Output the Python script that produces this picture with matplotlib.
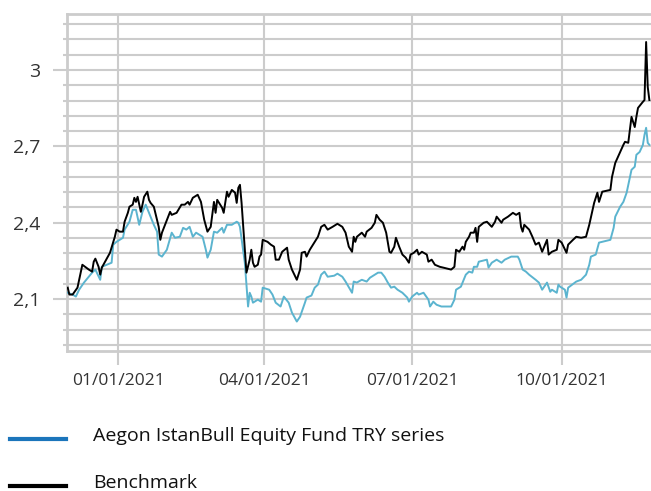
import matplotlib
matplotlib.use("Agg")
import matplotlib.pyplot as plt
import matplotlib.dates as mdates
from matplotlib.ticker import MultipleLocator, FuncFormatter
from matplotlib.lines import Line2D
import pandas as pd

plt.rcParams['font.family'] = ['Open Sans', 'DejaVu Sans']

# Fund series
fund_dates = [
    "2020-12-01", "2020-12-04", "2020-12-06", "2020-12-08", "2020-12-11", "2020-12-14", "2020-12-16",
    "2020-12-18", "2020-12-21", "2020-12-22", "2020-12-28", "2020-12-29", "2020-12-31",
    "2021-01-04", "2021-01-05", "2021-01-08", "2021-01-10", "2021-01-12", "2021-01-14", "2021-01-16",
    "2021-01-18", "2021-01-20", "2021-01-23", "2021-01-25", "2021-01-26", "2021-01-28", "2021-01-31",
    "2021-02-03", "2021-02-05", "2021-02-08", "2021-02-10", "2021-02-12", "2021-02-14", "2021-02-16",
    "2021-02-18", "2021-02-22", "2021-02-24", "2021-02-25", "2021-02-27",
    "2021-03-01", "2021-03-03", "2021-03-06", "2021-03-07", "2021-03-09", "2021-03-12", "2021-03-15",
    "2021-03-16", "2021-03-17", "2021-03-20", "2021-03-22", "2021-03-23", "2021-03-24", "2021-03-25",
    "2021-03-28", "2021-03-30", "2021-03-31",
    "2021-04-04", "2021-04-06", "2021-04-08", "2021-04-11", "2021-04-13", "2021-04-16", "2021-04-18",
    "2021-04-21", "2021-04-23", "2021-04-26", "2021-04-27", "2021-04-30",
    "2021-05-02", "2021-05-04", "2021-05-06", "2021-05-08", "2021-05-10", "2021-05-14", "2021-05-16",
    "2021-05-19", "2021-05-21", "2021-05-25", "2021-05-26", "2021-05-28", "2021-05-29", "2021-05-31",
    "2021-06-03", "2021-06-05", "2021-06-08", "2021-06-10", "2021-06-12", "2021-06-14", "2021-06-16",
    "2021-06-18", "2021-06-20", "2021-06-22", "2021-06-25", "2021-06-28", "2021-06-29",
    "2021-07-01", "2021-07-04", "2021-07-05", "2021-07-08", "2021-07-11", "2021-07-12", "2021-07-14",
    "2021-07-16", "2021-07-19", "2021-07-25", "2021-07-27", "2021-07-28", "2021-07-31",
    "2021-08-03", "2021-08-05", "2021-08-07", "2021-08-08", "2021-08-10", "2021-08-11", "2021-08-16",
    "2021-08-17", "2021-08-19", "2021-08-22", "2021-08-25", "2021-08-27", "2021-08-31",
    "2021-09-04", "2021-09-05", "2021-09-07", "2021-09-09", "2021-09-11", "2021-09-15", "2021-09-17",
    "2021-09-19", "2021-09-22", "2021-09-24", "2021-09-25", "2021-09-28", "2021-09-29", "2021-09-30",
    "2021-10-03", "2021-10-04", "2021-10-05", "2021-10-10", "2021-10-13", "2021-10-16", "2021-10-18",
    "2021-10-19", "2021-10-22", "2021-10-24", "2021-10-31",
    "2021-11-02", "2021-11-03", "2021-11-06", "2021-11-08", "2021-11-10", "2021-11-13", "2021-11-15",
    "2021-11-16", "2021-11-18", "2021-11-20", "2021-11-21", "2021-11-22", "2021-11-23", "2021-11-24",
]
fund_values = [
    2.125, 2.118, 2.110, 2.137, 2.165, 2.188, 2.204, 2.216, 2.176, 2.227, 2.243, 2.314, 2.325,
    2.341, 2.373, 2.404, 2.451, 2.451, 2.392, 2.443, 2.471, 2.439, 2.392, 2.365, 2.275, 2.267, 2.294,
    2.361, 2.341, 2.345, 2.380, 2.373, 2.384, 2.345, 2.361, 2.345, 2.294, 2.263, 2.294,
    2.365, 2.361, 2.380, 2.361, 2.392, 2.392, 2.404, 2.400, 2.384, 2.243, 2.071, 2.125, 2.110, 2.086,
    2.098, 2.090, 2.145,
    2.137, 2.118, 2.086, 2.071, 2.110, 2.086, 2.047, 2.012, 2.031, 2.086, 2.106, 2.114,
    2.145, 2.157, 2.196, 2.208, 2.188, 2.192, 2.200, 2.188, 2.169, 2.125, 2.169, 2.165, 2.169, 2.176,
    2.169, 2.184, 2.196, 2.204, 2.204, 2.188, 2.165, 2.145, 2.149, 2.137, 2.125, 2.106, 2.090,
    2.110, 2.125, 2.118, 2.125, 2.098, 2.071, 2.090, 2.078, 2.071, 2.071, 2.098, 2.137, 2.149,
    2.196, 2.208, 2.204, 2.227, 2.227, 2.247, 2.255, 2.224, 2.243, 2.255, 2.243, 2.255, 2.267,
    2.267, 2.255, 2.216, 2.208, 2.196, 2.176, 2.165, 2.137, 2.165, 2.129, 2.137, 2.125, 2.157, 2.149,
    2.137, 2.106, 2.145, 2.169, 2.176, 2.196, 2.235, 2.267, 2.275, 2.322, 2.333,
    2.380, 2.424, 2.463, 2.482, 2.518, 2.608, 2.620, 2.667, 2.678, 2.706, 2.745, 2.773, 2.714, 2.706,
]

# Benchmark series
bench_dates = [
    "2020-12-01", "2020-12-02", "2020-12-04", "2020-12-07", "2020-12-10", "2020-12-14", "2020-12-16",
    "2020-12-17", "2020-12-18", "2020-12-20", "2020-12-21", "2020-12-22", "2020-12-24", "2020-12-27",
    "2020-12-29", "2020-12-30", "2020-12-31",
    "2021-01-02", "2021-01-04", "2021-01-05", "2021-01-07", "2021-01-08", "2021-01-10", "2021-01-11",
    "2021-01-12", "2021-01-13", "2021-01-15", "2021-01-16", "2021-01-17", "2021-01-19", "2021-01-20",
    "2021-01-21", "2021-01-23", "2021-01-26", "2021-01-27", "2021-01-28",
    "2021-02-02", "2021-02-03", "2021-02-06", "2021-02-09", "2021-02-11", "2021-02-13", "2021-02-14",
    "2021-02-16", "2021-02-17", "2021-02-19", "2021-02-21", "2021-02-23", "2021-02-25", "2021-02-27",
    "2021-03-01", "2021-03-02", "2021-03-03", "2021-03-06", "2021-03-07", "2021-03-09", "2021-03-10",
    "2021-03-12", "2021-03-14", "2021-03-15", "2021-03-16", "2021-03-17", "2021-03-18", "2021-03-21",
    "2021-03-23", "2021-03-24", "2021-03-25", "2021-03-26", "2021-03-28", "2021-03-29", "2021-03-30",
    "2021-03-31",
    "2021-04-03", "2021-04-05", "2021-04-07", "2021-04-08", "2021-04-10", "2021-04-12", "2021-04-15",
    "2021-04-16", "2021-04-18", "2021-04-21", "2021-04-23", "2021-04-24", "2021-04-26", "2021-04-27",
    "2021-04-29",
    "2021-05-02", "2021-05-04", "2021-05-06", "2021-05-08", "2021-05-10", "2021-05-13", "2021-05-16",
    "2021-05-19", "2021-05-21", "2021-05-23", "2021-05-25", "2021-05-26", "2021-05-27", "2021-05-28",
    "2021-05-31",
    "2021-06-02", "2021-06-03", "2021-06-06", "2021-06-08", "2021-06-09", "2021-06-11", "2021-06-13",
    "2021-06-15", "2021-06-17", "2021-06-18", "2021-06-20", "2021-06-21", "2021-06-23", "2021-06-25",
    "2021-06-27", "2021-06-29", "2021-06-30",
    "2021-07-02", "2021-07-04", "2021-07-05", "2021-07-07", "2021-07-10", "2021-07-11", "2021-07-13",
    "2021-07-15", "2021-07-18", "2021-07-20", "2021-07-25", "2021-07-27", "2021-07-28", "2021-07-30",
    "2021-08-01", "2021-08-02", "2021-08-03", "2021-08-05", "2021-08-06", "2021-08-08", "2021-08-09",
    "2021-08-10", "2021-08-11", "2021-08-14", "2021-08-16", "2021-08-19", "2021-08-21", "2021-08-22",
    "2021-08-25", "2021-08-26", "2021-08-29",
    "2021-09-01", "2021-09-03", "2021-09-05", "2021-09-06", "2021-09-07", "2021-09-08", "2021-09-11",
    "2021-09-13", "2021-09-15", "2021-09-17", "2021-09-19", "2021-09-22", "2021-09-23", "2021-09-25",
    "2021-09-28", "2021-09-29",
    "2021-10-01", "2021-10-04", "2021-10-05", "2021-10-08", "2021-10-10", "2021-10-13", "2021-10-16",
    "2021-10-18", "2021-10-21", "2021-10-23", "2021-10-24", "2021-10-26", "2021-10-31",
    "2021-11-01", "2021-11-03", "2021-11-06", "2021-11-08", "2021-11-09", "2021-11-11", "2021-11-12",
    "2021-11-13", "2021-11-15", "2021-11-16", "2021-11-17", "2021-11-20", "2021-11-21", "2021-11-22",
    "2021-11-23", "2021-11-24",
]
bench_values = [
    2.145, 2.118, 2.118, 2.145, 2.235, 2.216, 2.208, 2.247, 2.259, 2.227, 2.196, 2.224, 2.247, 2.282,
    2.325, 2.345, 2.373,
    2.365, 2.365, 2.404, 2.439, 2.463, 2.471, 2.498, 2.482, 2.502, 2.443, 2.471, 2.502, 2.522, 2.490,
    2.478, 2.463, 2.384, 2.333, 2.361,
    2.443, 2.431, 2.439, 2.471, 2.471, 2.482, 2.471, 2.498, 2.502, 2.510, 2.482, 2.412, 2.365, 2.384,
    2.482, 2.439, 2.490, 2.459, 2.439, 2.522, 2.502, 2.529, 2.518, 2.478, 2.537, 2.549, 2.478, 2.204,
    2.255, 2.294, 2.243, 2.227, 2.235, 2.267, 2.275, 2.333,
    2.325, 2.314, 2.306, 2.255, 2.255, 2.286, 2.302, 2.255, 2.216, 2.176, 2.216, 2.282, 2.286, 2.267,
    2.294,
    2.325, 2.345, 2.384, 2.392, 2.373, 2.384, 2.396, 2.384, 2.361, 2.306, 2.286, 2.345, 2.325, 2.345,
    2.361,
    2.345, 2.365, 2.380, 2.400, 2.431, 2.412, 2.400, 2.361, 2.286, 2.282, 2.306, 2.341, 2.306, 2.275,
    2.263, 2.243, 2.275,
    2.282, 2.294, 2.275, 2.286, 2.275, 2.247, 2.255, 2.235, 2.227, 2.224, 2.216, 2.227, 2.294, 2.286,
    2.306, 2.294, 2.325, 2.345, 2.361, 2.361, 2.380, 2.325, 2.384, 2.400, 2.404, 2.384, 2.404, 2.424,
    2.400, 2.412, 2.424,
    2.439, 2.431, 2.439, 2.384, 2.365, 2.392, 2.373, 2.345, 2.314, 2.322, 2.286, 2.333, 2.275, 2.286,
    2.294, 2.333,
    2.322, 2.282, 2.314, 2.333, 2.345, 2.341, 2.345, 2.392, 2.478, 2.518, 2.482, 2.522, 2.529,
    2.580, 2.635, 2.678, 2.706, 2.718, 2.714, 2.765, 2.816, 2.776, 2.816, 2.851, 2.875, 2.882, 3.110,
    2.933, 2.882,
]

series_labels = ["Aegon IstanBull Equity Fund TRY series", "Benchmark"]
line_colors = ["#5bb4cf", "#000000"]
legend_colors = ["#1b75bb", "#000000"]

grid_color = "#cccccc"

fig = plt.figure(figsize=(6.51, 4.91), dpi=100)
ax = fig.add_axes([0.103, 0.285, 0.897, 0.6865])

ax.plot(pd.to_datetime(fund_dates), fund_values, color=line_colors[0], lw=1.4, zorder=3)
ax.plot(pd.to_datetime(bench_dates), bench_values, color=line_colors[1], lw=1.4, zorder=4)

ax.set_xlim(pd.Timestamp("2020-11-30 14:00"), pd.Timestamp("2021-11-25"))
ax.set_ylim(1.896, 3.22)

ax.xaxis.set_major_locator(mdates.MonthLocator(bymonth=[1, 4, 7, 10]))
ax.xaxis.set_major_formatter(mdates.DateFormatter("%m/%d/%Y"))
ax.yaxis.set_major_locator(MultipleLocator(0.3))
ax.yaxis.set_minor_locator(MultipleLocator(0.06))
ax.yaxis.set_major_formatter(FuncFormatter(lambda v, p: f"{v:g}".replace(".", ",")))

ax.grid(which="both", axis="y", color=grid_color, lw=1.5, zorder=0)
ax.grid(which="major", axis="x", color=grid_color, lw=1.5, zorder=0)
ax.set_axisbelow(True)

for side in ["left", "bottom", "top"]:
    ax.spines[side].set_color(grid_color)
    ax.spines[side].set_linewidth(2)
ax.spines["right"].set_visible(False)

ax.tick_params(axis="y", which="major", length=10, width=1.5, color=grid_color,
               labelsize=14, labelcolor="#333333", pad=9)
ax.tick_params(axis="y", which="minor", length=3, width=1.5, color=grid_color)
ax.tick_params(axis="x", which="major", length=10, width=1.5, color=grid_color,
               labelsize=12.5, labelcolor="#333333", pad=6)

# legend below the chart
rows_y = [0.106, 0.010]
for lab, col, yy in zip(series_labels, legend_colors, rows_y):
    fig.add_artist(Line2D([0.015, 0.101], [yy, yy], color=col, lw=3, transform=fig.transFigure))
    fig.text(0.143, yy + 0.006, lab, fontsize=14, color="#111111", va="center", ha="left")

fig.savefig("out.png", dpi=100)
